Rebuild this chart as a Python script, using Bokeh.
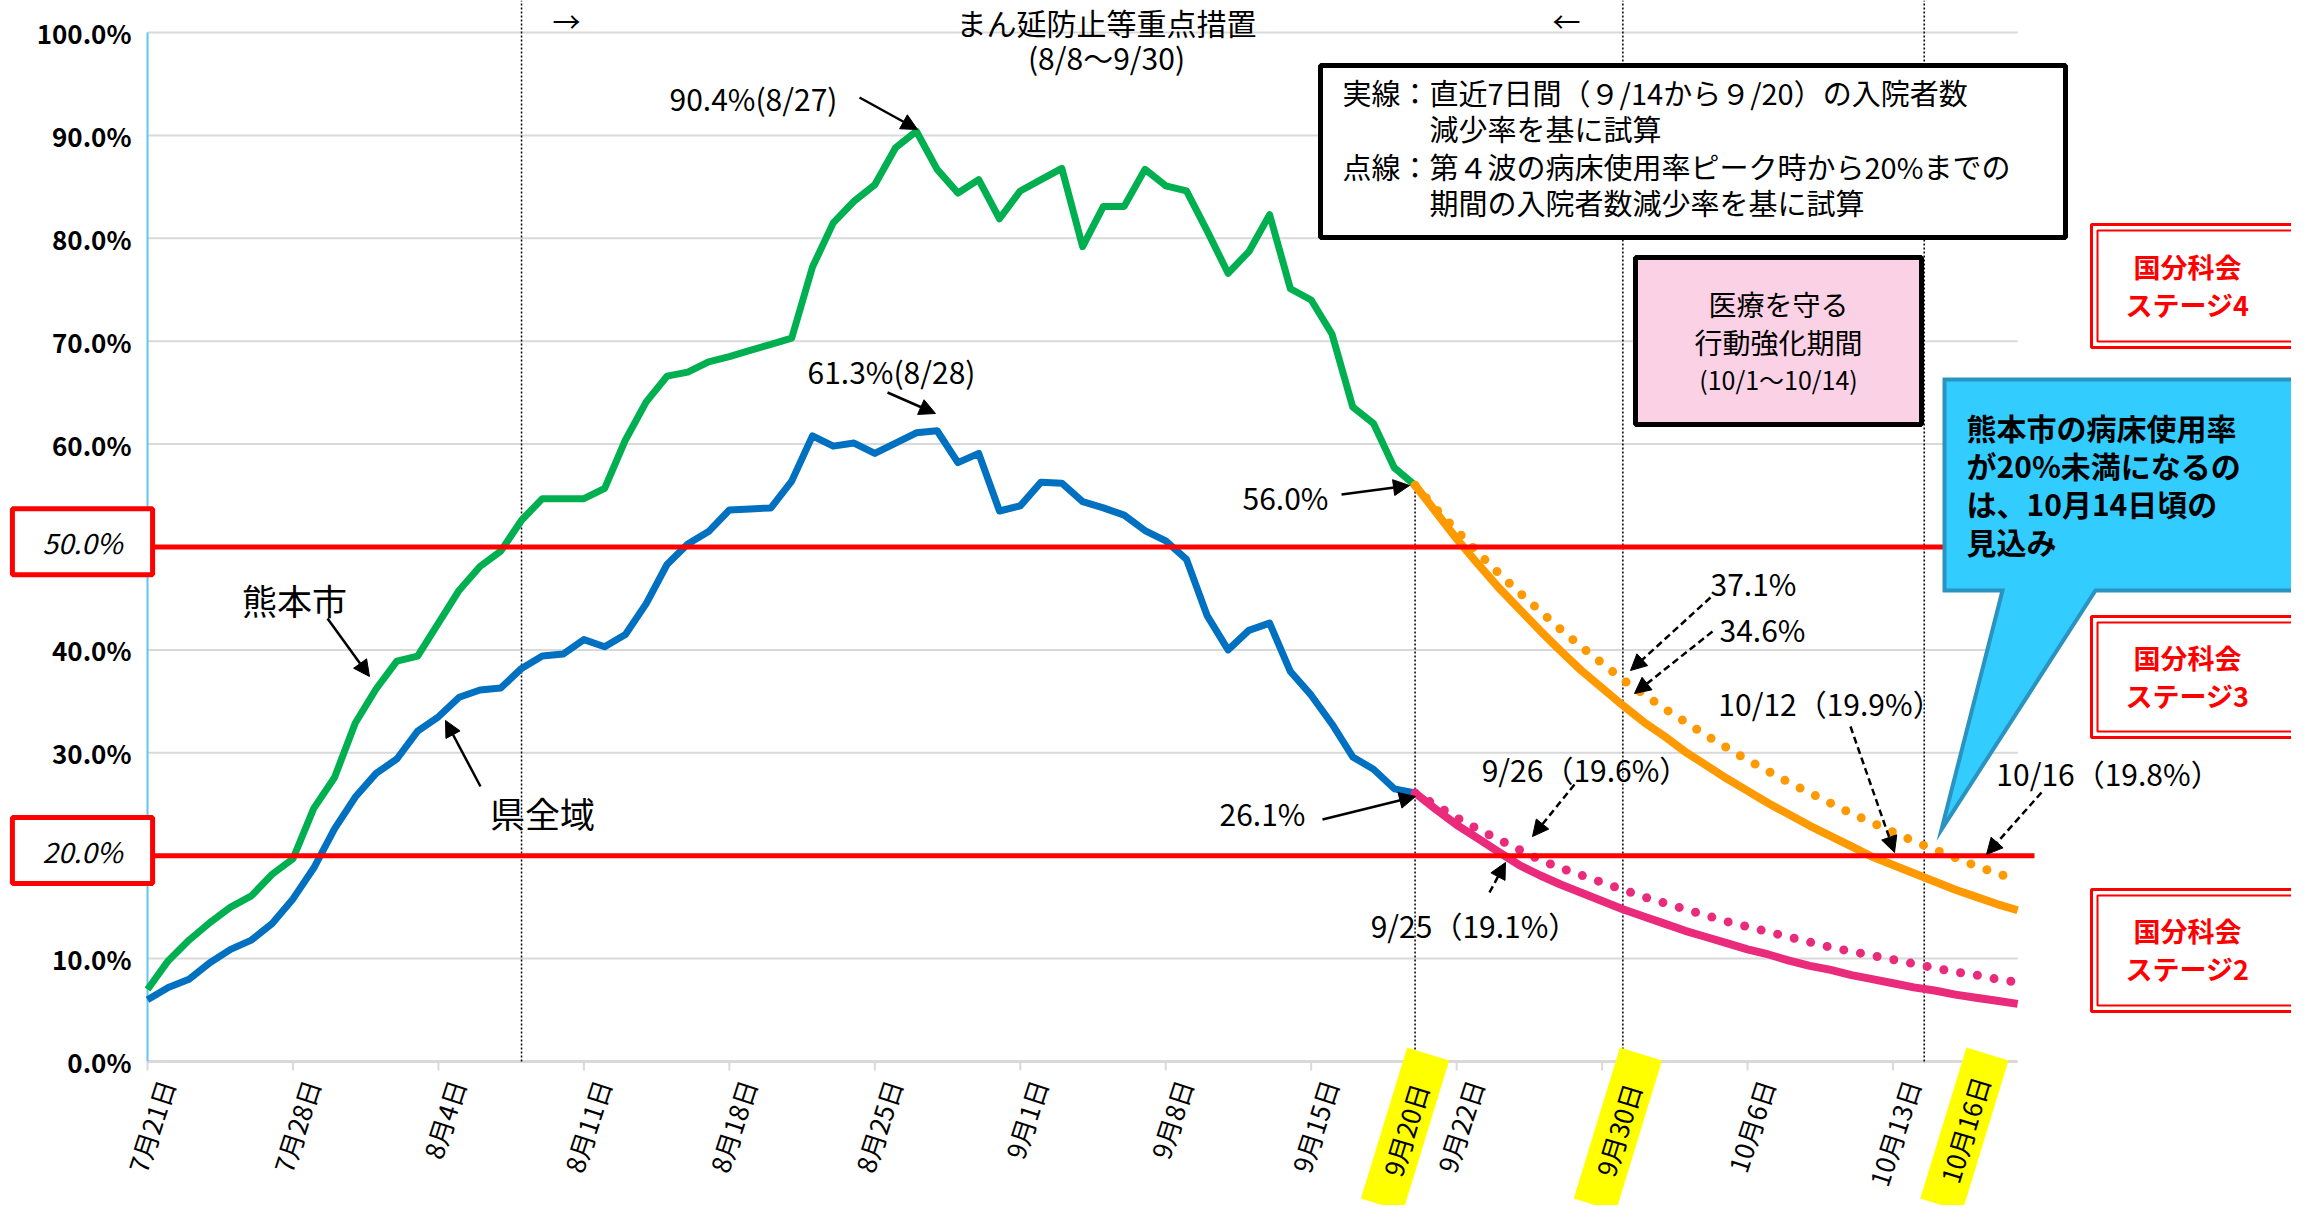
from bokeh.plotting import figure
from bokeh.models import Range1d, Label, Arrow, NormalHead
from bokeh.core.properties import value
from bokeh.embed import file_html
from bokeh.resources import INLINE

FONT = "Noto Sans CJK JP"

# ---------------- data (days counted from 7/21) ----------------
obs_days = list(range(0, 62))
city = [7.0, 9.8, 11.8, 13.5, 15.0, 16.1, 18.2, 19.7, 24.6, 27.6,
        32.9, 36.2, 38.9, 39.4, 42.6, 45.8, 48.1, 49.6, 52.6, 54.7,
        54.7, 54.7, 55.7, 60.4, 64.1, 66.6, 67.0, 68.0, 68.5, 69.1,
        69.7, 70.3, 77.2, 81.5, 83.6, 85.2, 88.8, 90.4, 86.7, 84.4,
        85.7, 81.9, 84.6, 85.7, 86.8, 79.2, 83.1, 83.1, 86.7, 85.1,
        84.6, 80.7, 76.6, 78.7, 82.3, 75.1, 74.0, 70.7, 63.6, 62.0,
        57.7, 56.0]
pref = [6.0, 7.2, 8.0, 9.6, 10.9, 11.8, 13.4, 15.8, 18.8, 22.6,
        25.7, 28.0, 29.4, 32.1, 33.5, 35.4, 36.1, 36.3, 38.2, 39.4,
        39.6, 41.0, 40.3, 41.5, 44.5, 48.3, 50.3, 51.5, 53.6, 53.7,
        53.8, 56.4, 60.8, 59.8, 60.1, 59.1, 60.1, 61.1, 61.3, 58.2,
        59.1, 53.5, 54.0, 56.3, 56.2, 54.4, 53.8, 53.1, 51.6, 50.6,
        48.8, 43.3, 40.0, 41.9, 42.6, 37.9, 35.6, 32.8, 29.6, 28.4,
        26.5, 26.1]
proj_days = list(range(61, 91))
city_recent = [56.0, 53.4, 50.8, 48.4, 46.1, 44.0, 41.9, 39.9, 38.0, 36.3,
               34.6, 33.0, 31.6, 30.1, 28.8, 27.5, 26.3, 25.1, 24.0, 22.9,
               21.9, 20.9, 19.9, 19.1, 18.3, 17.5, 16.7, 16.0, 15.3, 14.7]
city_wave4 = [56.0, 53.7, 51.6, 49.5, 47.5, 45.6, 43.8, 42.0, 40.3, 38.7,
              37.1, 35.7, 34.3, 33.0, 31.7, 30.5, 29.3, 28.2, 27.1, 26.1,
              25.1, 24.1, 23.2, 22.3, 21.4, 20.6, 19.8, 19.0, 18.3, 17.6]
pref_recent = [26.1, 24.5, 23.0, 21.7, 20.4, 19.1, 18.1, 17.2, 16.4, 15.6,
               14.8, 14.1, 13.4, 12.7, 12.1, 11.5, 10.9, 10.4, 9.8, 9.3,
               8.9, 8.4, 8.0, 7.6, 7.2, 6.9, 6.5, 6.2, 5.9, 5.6]
pref_wave4 = [26.1, 24.9, 23.7, 22.6, 21.6, 20.6, 19.6, 18.8, 18.1, 17.4,
              16.7, 16.0, 15.4, 14.8, 14.2, 13.6, 13.1, 12.6, 12.1, 11.6,
              11.1, 10.7, 10.3, 9.9, 9.5, 9.1, 8.7, 8.4, 8.0, 7.7]
thresholds = [50.0, 20.0]
threshold_labels = ["50.0%", "20.0%"]
tick_days = [0, 7, 14, 21, 28, 35, 42, 49, 56, 63, 70, 77, 84]
tick_labels = ["7月21日", "7月28日", "8月4日", "8月11日", "8月18日", "8月25日",
               "9月1日", "9月8日", "9月15日", "9月22日", "", "10月6日", "10月13日"]
highlight_days = [61, 71, 87]
highlight_labels = ["9月20日", "9月30日", "10月16日"]
y_ticks = [0, 10, 30, 40, 60, 70, 80, 90, 100]
y_tick_labels = ["0.0%", "10.0%", "30.0%", "40.0%", "60.0%", "70.0%", "80.0%", "90.0%", "100.0%"]
grid_vals = [10, 20, 30, 40, 50, 60, 70, 80, 90, 100]
marker_days = [18, 61, 71, 85.5]

# ---------------- layout helpers (reference page pixels -> data) ----------------
X0_PX, DAY_PX = 155.0, 20.78
Y0_PX, PCT_PX = 1069.0, 10.29
W, H = 2291, 1205


def dx(px):
    return (px - X0_PX) / DAY_PX


def dy(py):
    return (Y0_PX - py) / PCT_PX


YTOP = dy(8)
p = figure(width=W, height=H, output_backend="svg", toolbar_location=None,
           x_axis_type=None, y_axis_type=None,
           x_range=Range1d(dx(8), dx(8 + W)), y_range=Range1d(dy(8 + H), YTOP),
           min_border_left=0, min_border_right=0, min_border_top=0, min_border_bottom=0)
p.outline_line_color = None
p.xgrid.visible = False
p.ygrid.visible = False
p.background_fill_color = "white"
p.border_fill_color = "white"

last_day = proj_days[-1]
# gridlines
p.segment(x0=[0] * len(grid_vals), y0=grid_vals, x1=[last_day] * len(grid_vals), y1=grid_vals,
          line_color="#D9D9D9", line_width=2)
# x axis line and ticks
p.segment(x0=[0], y0=[0], x1=[last_day], y1=[0], line_color="#D9D9D9", line_width=3)
p.segment(x0=tick_days, y0=[0] * len(tick_days), x1=tick_days, y1=[dy(1078)] * len(tick_days),
          line_color="#D9D9D9", line_width=2)
# y axis line
p.segment(x0=[0], y0=[0], x1=[0], y1=[100], line_color="#5FC6F0", line_width=2)
# tick labels
xl = [(d, t) for d, t in zip(tick_days, tick_labels) if t]
p.text(x=[d for d, t in xl], y=[dy(1088)] * len(xl), text=[t for d, t in xl],
       angle=72, angle_units="deg", x_offset=18, text_align="right", text_baseline="middle",
       text_font=value(FONT), text_font_size=value("26px"), text_color="black")
p.text(x=[dx(139)] * len(y_ticks), y=y_ticks, text=y_tick_labels,
       text_align="right", text_baseline="middle", text_font=value(FONT),
       text_font_size=value("26px"), text_font_style="bold", text_color="black")

# vertical dotted markers
p.segment(x0=marker_days, y0=[0] * 4, x1=marker_days, y1=[YTOP, city[-1], YTOP, YTOP],
          line_color="black", line_width=1.5, line_dash="2 2")

# series
p.line(obs_days, city, line_color="#00B050", line_width=7, line_join="round")
p.line(obs_days, pref, line_color="#0070C0", line_width=7, line_join="round")
p.line(proj_days, city_wave4, line_color="#FF9900", line_width=9, line_dash="0 17", line_cap="round")
p.line(proj_days, pref_wave4, line_color="#EA2A7B", line_width=9, line_dash="0 17", line_cap="round")
p.line(proj_days, city_recent, line_color="#FF9900", line_width=8)
p.line(proj_days, pref_recent, line_color="#EA2A7B", line_width=8)

# thresholds
p.segment(x0=[dx(152)] * 2, y0=thresholds, x1=[dx(2042)] * 2, y1=thresholds, line_color="#FF0000", line_width=5)

# legend box
p.quad(left=[dx(1328)], right=[dx(2073)], top=[dy(73)], bottom=[dy(245)],
       fill_color="white", line_color="black", line_width=5)
# pink box
p.quad(left=[dx(1643)], right=[dx(1929)], top=[dy(265)], bottom=[dy(432)],
       fill_color="#FAD1E5", line_color="black", line_width=5)
# callout
call_px = [(1952, 387), (2320, 387), (2320, 598), (2103, 598), (1949, 837), (2010, 598), (1952, 598)]
p.patch([dx(a) for a, b in call_px], [dy(b) for a, b in call_px],
        fill_color="#33CCFF", line_color="#2A93C0", line_width=4, line_join="miter")
# stage boxes
for top, bot in [(232, 355), (624, 745), (897, 1019)]:
    p.quad(left=[dx(2099)], right=[dx(2330)], top=[dy(top)], bottom=[dy(bot)],
           fill_color="white", line_color="#FF0000", line_width=3)
    p.quad(left=[dx(2105)], right=[dx(2330)], top=[dy(top + 6)], bottom=[dy(bot - 6)],
           fill_color=None, line_color="#FF0000", line_width=2)


def lab(text, px, py, size="30px", align="center", color="black", style="normal", **kw):
    p.add_layout(Label(x=dx(px), y=dy(py), text=text, text_font=FONT, text_font_size=size,
                       text_align=align, text_baseline="middle", text_color=color,
                       text_font_style=style, **kw))


# top texts
lab("まん延防止等重点措置", 1114, 29, "30px")
lab("(8/8～9/30)", 1114, 64, "30px")
lab("→", 574, 28, "28px")
lab("←", 1574, 28, "28px")

# legend text
lab("実線：直近7日間（９/14から９/20）の入院者数", 1350, 99, "29px", align="left")
lab("減少率を基に試算", 1437, 135, "29px", align="left")
lab("点線：第４波の病床使用率ピーク時から20%までの", 1350, 173, "29px", align="left")
lab("期間の入院者数減少率を基に試算", 1437, 209, "29px", align="left")

# pink box text
lab("医療を守る", 1786, 311, "28px")
lab("行動強化期間", 1786, 349, "28px")
lab("(10/1～10/14)", 1786, 386, "25px")

# callout text
for i, t in enumerate(["熊本市の病床使用率", "が20%未満になるの", "は、10月14日頃の", "見込み"]):
    lab(t, 1974, 434 + i * 38, "30px", align="left", style="bold")

# stage text
for (l1, l2), yc in [(("国分科会", "ステージ4"), 293), (("国分科会", "ステージ3"), 684), (("国分科会", "ステージ2"), 957)]:
    lab(l1, 2195, yc - 19, "27px", color="#FF0000", style="bold")
    lab(l2, 2195, yc + 19, "27px", color="#FF0000", style="bold")

# series name texts
lab("熊本市", 302, 607, "35px")
lab("県全域", 550, 820, "35px")

# value annotations
lab("90.4%(8/27)", 761, 105)
lab("61.3%(8/28)", 899, 378)
lab("56.0%", 1293, 504)
lab("26.1%", 1270, 820)
lab("37.1%", 1761, 590)
lab("34.6%", 1770, 636)
lab("10/12（19.9%）", 1838, 710)
lab("10/16（19.8%）", 2116, 780)
lab("9/26（19.6%）", 1593, 776)
lab("9/25（19.1%）", 1482, 932)

# arrows (solid and dashed)
arrows = [
    (335, 626, 377, 684, False),
    (488, 794, 453, 728, False),
    (867, 105, 925, 137, False),
    (895, 400, 943, 421, False),
    (1349, 502, 1417, 493, False),
    (1330, 827, 1423, 804, False),
    (1718, 605, 1638, 678, True),
    (1720, 639, 1642, 701, True),
    (1858, 734, 1902, 860, True),
    (2049, 800, 1994, 862, True),
    (1582, 792, 1540, 844, True),
    (1497, 900, 1513, 870, True),
]
for sx, sy, ex, ey, dashed in arrows:
    p.add_layout(Arrow(x_start=dx(sx), y_start=dy(sy), x_end=dx(ex), y_end=dy(ey),
                       line_color="black", line_width=2.5,
                       line_dash="7 4" if dashed else "solid",
                       end=NormalHead(size=16, fill_color="black", line_color="black")))

# threshold boxes on the y axis
for val, t in zip(thresholds, threshold_labels):
    p.add_layout(Label(x=dx(90), y=val + 0.5, text=t, text_font=FONT, text_font_size="28px",
                       text_font_style="italic", text_align="center", text_baseline="middle",
                       text_color="black", background_fill_color="white",
                       border_line_color="#FF0000", border_line_width=5, padding=(30, 13)))

# highlighted dates under the axis (rotated yellow tags)
offs = [-10, -5, 9]
hx = [d + o / DAY_PX for d, o in zip(highlight_days, offs)]
p.rect(x=hx, y=[dy(1137)] * 3, width=158, height=44, width_units="screen", height_units="screen",
       angle=73, angle_units="deg", fill_color="#FFFF00", line_color=None)
p.text(x=hx, y=[dy(1137)] * 3, text=highlight_labels, angle=73, angle_units="deg",
       text_align="center", text_baseline="middle", text_font=value(FONT),
       text_font_size=value("26px"), text_color="black")

open("out.html", "w").write(file_html(p, INLINE))
